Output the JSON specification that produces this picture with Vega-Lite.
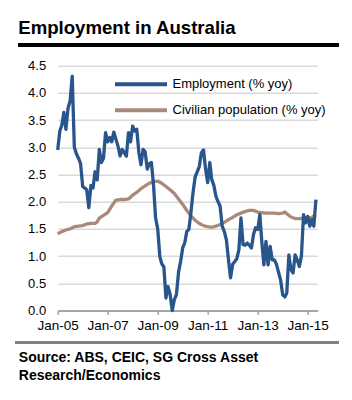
{
  "$schema": "https://vega.github.io/schema/vega-lite/v6.json",
  "autosize": {"type": "none"},
  "padding": {"left": 57.7, "top": 65.7, "right": 34.3, "bottom": 89.5},
  "width": 260,
  "height": 244.8,
  "background": "white",
  "title": {"text": "Employment in Australia", "anchor": "start", "frame": "group", "dx": -39.4, "offset": -9, "fontSize": 18.6, "fontWeight": "bold", "font": "Liberation Sans", "color": "#000000", "baseline": "alphabetic"},
  "config": {"view": {"stroke": null}, "font": "Liberation Sans"},
  "data": {"values": [
    {"d":"2005-01-01","s":"Civilian population (% yoy)","v":1.41},
    {"d":"2005-03-01","s":"Civilian population (% yoy)","v":1.45},
    {"d":"2005-05-01","s":"Civilian population (% yoy)","v":1.48},
    {"d":"2005-07-01","s":"Civilian population (% yoy)","v":1.50},
    {"d":"2005-09-01","s":"Civilian population (% yoy)","v":1.54},
    {"d":"2005-11-01","s":"Civilian population (% yoy)","v":1.55},
    {"d":"2006-01-01","s":"Civilian population (% yoy)","v":1.56},
    {"d":"2006-03-01","s":"Civilian population (% yoy)","v":1.59},
    {"d":"2006-05-01","s":"Civilian population (% yoy)","v":1.60},
    {"d":"2006-07-01","s":"Civilian population (% yoy)","v":1.60},
    {"d":"2006-08-01","s":"Civilian population (% yoy)","v":1.63},
    {"d":"2006-09-01","s":"Civilian population (% yoy)","v":1.70},
    {"d":"2006-11-01","s":"Civilian population (% yoy)","v":1.75},
    {"d":"2007-01-01","s":"Civilian population (% yoy)","v":1.80},
    {"d":"2007-03-01","s":"Civilian population (% yoy)","v":1.92},
    {"d":"2007-05-01","s":"Civilian population (% yoy)","v":2.03},
    {"d":"2007-07-01","s":"Civilian population (% yoy)","v":2.04},
    {"d":"2007-09-01","s":"Civilian population (% yoy)","v":2.04},
    {"d":"2007-11-01","s":"Civilian population (% yoy)","v":2.05},
    {"d":"2008-01-01","s":"Civilian population (% yoy)","v":2.12},
    {"d":"2008-03-01","s":"Civilian population (% yoy)","v":2.17},
    {"d":"2008-05-01","s":"Civilian population (% yoy)","v":2.24},
    {"d":"2008-07-01","s":"Civilian population (% yoy)","v":2.29},
    {"d":"2008-09-01","s":"Civilian population (% yoy)","v":2.34},
    {"d":"2008-11-01","s":"Civilian population (% yoy)","v":2.37},
    {"d":"2009-01-01","s":"Civilian population (% yoy)","v":2.38},
    {"d":"2009-03-01","s":"Civilian population (% yoy)","v":2.34},
    {"d":"2009-05-01","s":"Civilian population (% yoy)","v":2.28},
    {"d":"2009-07-01","s":"Civilian population (% yoy)","v":2.22},
    {"d":"2009-09-01","s":"Civilian population (% yoy)","v":2.15},
    {"d":"2009-11-01","s":"Civilian population (% yoy)","v":2.05},
    {"d":"2010-01-01","s":"Civilian population (% yoy)","v":1.95},
    {"d":"2010-03-01","s":"Civilian population (% yoy)","v":1.84},
    {"d":"2010-05-01","s":"Civilian population (% yoy)","v":1.74},
    {"d":"2010-07-01","s":"Civilian population (% yoy)","v":1.66},
    {"d":"2010-09-01","s":"Civilian population (% yoy)","v":1.60},
    {"d":"2010-11-01","s":"Civilian population (% yoy)","v":1.56},
    {"d":"2011-01-01","s":"Civilian population (% yoy)","v":1.54},
    {"d":"2011-03-01","s":"Civilian population (% yoy)","v":1.53},
    {"d":"2011-05-01","s":"Civilian population (% yoy)","v":1.55},
    {"d":"2011-07-01","s":"Civilian population (% yoy)","v":1.58},
    {"d":"2011-09-01","s":"Civilian population (% yoy)","v":1.62},
    {"d":"2011-11-01","s":"Civilian population (% yoy)","v":1.67},
    {"d":"2012-01-01","s":"Civilian population (% yoy)","v":1.71},
    {"d":"2012-03-01","s":"Civilian population (% yoy)","v":1.76},
    {"d":"2012-05-01","s":"Civilian population (% yoy)","v":1.79},
    {"d":"2012-07-01","s":"Civilian population (% yoy)","v":1.82},
    {"d":"2012-09-01","s":"Civilian population (% yoy)","v":1.84},
    {"d":"2012-11-01","s":"Civilian population (% yoy)","v":1.84},
    {"d":"2013-01-01","s":"Civilian population (% yoy)","v":1.81},
    {"d":"2013-03-01","s":"Civilian population (% yoy)","v":1.80},
    {"d":"2013-05-01","s":"Civilian population (% yoy)","v":1.79},
    {"d":"2013-07-01","s":"Civilian population (% yoy)","v":1.79},
    {"d":"2013-09-01","s":"Civilian population (% yoy)","v":1.79},
    {"d":"2013-11-01","s":"Civilian population (% yoy)","v":1.78},
    {"d":"2014-01-01","s":"Civilian population (% yoy)","v":1.79},
    {"d":"2014-02-01","s":"Civilian population (% yoy)","v":1.81},
    {"d":"2014-03-01","s":"Civilian population (% yoy)","v":1.78},
    {"d":"2014-05-01","s":"Civilian population (% yoy)","v":1.72},
    {"d":"2014-07-01","s":"Civilian population (% yoy)","v":1.69},
    {"d":"2014-09-01","s":"Civilian population (% yoy)","v":1.69},
    {"d":"2014-11-01","s":"Civilian population (% yoy)","v":1.70},
    {"d":"2015-01-01","s":"Civilian population (% yoy)","v":1.70},
    {"d":"2015-03-01","s":"Civilian population (% yoy)","v":1.71},
    {"d":"2015-05-01","s":"Civilian population (% yoy)","v":1.76},
    {"d":"2005-01-01","s":"Employment (% yoy)","v":2.95},
    {"d":"2005-02-01","s":"Employment (% yoy)","v":3.30},
    {"d":"2005-03-01","s":"Employment (% yoy)","v":3.40},
    {"d":"2005-04-01","s":"Employment (% yoy)","v":3.64},
    {"d":"2005-05-01","s":"Employment (% yoy)","v":3.33},
    {"d":"2005-06-01","s":"Employment (% yoy)","v":3.72},
    {"d":"2005-07-01","s":"Employment (% yoy)","v":3.85},
    {"d":"2005-08-01","s":"Employment (% yoy)","v":4.31},
    {"d":"2005-09-01","s":"Employment (% yoy)","v":3.00},
    {"d":"2005-10-01","s":"Employment (% yoy)","v":2.88},
    {"d":"2005-11-01","s":"Employment (% yoy)","v":2.80},
    {"d":"2005-12-01","s":"Employment (% yoy)","v":2.70},
    {"d":"2006-01-01","s":"Employment (% yoy)","v":2.28},
    {"d":"2006-02-01","s":"Employment (% yoy)","v":2.25},
    {"d":"2006-03-01","s":"Employment (% yoy)","v":2.22},
    {"d":"2006-04-01","s":"Employment (% yoy)","v":1.89},
    {"d":"2006-05-01","s":"Employment (% yoy)","v":2.30},
    {"d":"2006-06-01","s":"Employment (% yoy)","v":2.25},
    {"d":"2006-07-01","s":"Employment (% yoy)","v":2.55},
    {"d":"2006-08-01","s":"Employment (% yoy)","v":2.40},
    {"d":"2006-09-01","s":"Employment (% yoy)","v":2.96},
    {"d":"2006-10-01","s":"Employment (% yoy)","v":2.72},
    {"d":"2006-11-01","s":"Employment (% yoy)","v":2.80},
    {"d":"2006-12-01","s":"Employment (% yoy)","v":3.27},
    {"d":"2007-01-01","s":"Employment (% yoy)","v":3.10},
    {"d":"2007-02-01","s":"Employment (% yoy)","v":3.18},
    {"d":"2007-03-01","s":"Employment (% yoy)","v":3.10},
    {"d":"2007-04-01","s":"Employment (% yoy)","v":3.28},
    {"d":"2007-05-01","s":"Employment (% yoy)","v":3.15},
    {"d":"2007-06-01","s":"Employment (% yoy)","v":3.02},
    {"d":"2007-07-01","s":"Employment (% yoy)","v":2.84},
    {"d":"2007-08-01","s":"Employment (% yoy)","v":2.96},
    {"d":"2007-09-01","s":"Employment (% yoy)","v":2.90},
    {"d":"2007-10-01","s":"Employment (% yoy)","v":2.84},
    {"d":"2007-11-01","s":"Employment (% yoy)","v":3.27},
    {"d":"2007-12-01","s":"Employment (% yoy)","v":3.10},
    {"d":"2008-01-01","s":"Employment (% yoy)","v":3.39},
    {"d":"2008-02-01","s":"Employment (% yoy)","v":3.30},
    {"d":"2008-03-01","s":"Employment (% yoy)","v":3.33},
    {"d":"2008-04-01","s":"Employment (% yoy)","v":2.90},
    {"d":"2008-05-01","s":"Employment (% yoy)","v":2.68},
    {"d":"2008-06-01","s":"Employment (% yoy)","v":2.96},
    {"d":"2008-07-01","s":"Employment (% yoy)","v":2.92},
    {"d":"2008-08-01","s":"Employment (% yoy)","v":2.60},
    {"d":"2008-09-01","s":"Employment (% yoy)","v":2.70},
    {"d":"2008-10-01","s":"Employment (% yoy)","v":2.72},
    {"d":"2008-11-01","s":"Employment (% yoy)","v":2.30},
    {"d":"2008-12-01","s":"Employment (% yoy)","v":1.70},
    {"d":"2009-01-01","s":"Employment (% yoy)","v":1.50},
    {"d":"2009-02-01","s":"Employment (% yoy)","v":0.99},
    {"d":"2009-03-01","s":"Employment (% yoy)","v":0.86},
    {"d":"2009-04-01","s":"Employment (% yoy)","v":0.80},
    {"d":"2009-05-01","s":"Employment (% yoy)","v":0.23},
    {"d":"2009-06-01","s":"Employment (% yoy)","v":0.44},
    {"d":"2009-07-01","s":"Employment (% yoy)","v":0.30},
    {"d":"2009-08-01","s":"Employment (% yoy)","v":0.00},
    {"d":"2009-09-01","s":"Employment (% yoy)","v":0.20},
    {"d":"2009-10-01","s":"Employment (% yoy)","v":0.29},
    {"d":"2009-11-01","s":"Employment (% yoy)","v":0.70},
    {"d":"2009-12-01","s":"Employment (% yoy)","v":0.90},
    {"d":"2010-01-01","s":"Employment (% yoy)","v":1.15},
    {"d":"2010-02-01","s":"Employment (% yoy)","v":1.25},
    {"d":"2010-03-01","s":"Employment (% yoy)","v":1.45},
    {"d":"2010-04-01","s":"Employment (% yoy)","v":1.49},
    {"d":"2010-05-01","s":"Employment (% yoy)","v":1.80},
    {"d":"2010-06-01","s":"Employment (% yoy)","v":2.17},
    {"d":"2010-07-01","s":"Employment (% yoy)","v":2.45},
    {"d":"2010-08-01","s":"Employment (% yoy)","v":2.55},
    {"d":"2010-09-01","s":"Employment (% yoy)","v":2.65},
    {"d":"2010-10-01","s":"Employment (% yoy)","v":2.90},
    {"d":"2010-11-01","s":"Employment (% yoy)","v":2.95},
    {"d":"2010-12-01","s":"Employment (% yoy)","v":2.60},
    {"d":"2011-01-01","s":"Employment (% yoy)","v":2.35},
    {"d":"2011-02-01","s":"Employment (% yoy)","v":2.72},
    {"d":"2011-03-01","s":"Employment (% yoy)","v":2.41},
    {"d":"2011-04-01","s":"Employment (% yoy)","v":2.30},
    {"d":"2011-05-01","s":"Employment (% yoy)","v":2.10},
    {"d":"2011-06-01","s":"Employment (% yoy)","v":2.00},
    {"d":"2011-07-01","s":"Employment (% yoy)","v":1.92},
    {"d":"2011-08-01","s":"Employment (% yoy)","v":1.55},
    {"d":"2011-09-01","s":"Employment (% yoy)","v":1.45},
    {"d":"2011-10-01","s":"Employment (% yoy)","v":1.30},
    {"d":"2011-11-01","s":"Employment (% yoy)","v":0.93},
    {"d":"2011-12-01","s":"Employment (% yoy)","v":0.60},
    {"d":"2012-01-01","s":"Employment (% yoy)","v":0.85},
    {"d":"2012-02-01","s":"Employment (% yoy)","v":0.90},
    {"d":"2012-03-01","s":"Employment (% yoy)","v":0.95},
    {"d":"2012-04-01","s":"Employment (% yoy)","v":1.12},
    {"d":"2012-05-01","s":"Employment (% yoy)","v":1.70},
    {"d":"2012-06-01","s":"Employment (% yoy)","v":1.21},
    {"d":"2012-07-01","s":"Employment (% yoy)","v":1.20},
    {"d":"2012-08-01","s":"Employment (% yoy)","v":1.24},
    {"d":"2012-09-01","s":"Employment (% yoy)","v":1.20},
    {"d":"2012-10-01","s":"Employment (% yoy)","v":1.15},
    {"d":"2012-11-01","s":"Employment (% yoy)","v":1.40},
    {"d":"2012-12-01","s":"Employment (% yoy)","v":1.52},
    {"d":"2013-01-01","s":"Employment (% yoy)","v":1.49},
    {"d":"2013-02-01","s":"Employment (% yoy)","v":1.76},
    {"d":"2013-03-01","s":"Employment (% yoy)","v":1.27},
    {"d":"2013-04-01","s":"Employment (% yoy)","v":0.84},
    {"d":"2013-05-01","s":"Employment (% yoy)","v":1.27},
    {"d":"2013-06-01","s":"Employment (% yoy)","v":0.84},
    {"d":"2013-07-01","s":"Employment (% yoy)","v":1.18},
    {"d":"2013-08-01","s":"Employment (% yoy)","v":0.93},
    {"d":"2013-09-01","s":"Employment (% yoy)","v":0.93},
    {"d":"2013-10-01","s":"Employment (% yoy)","v":0.85},
    {"d":"2013-11-01","s":"Employment (% yoy)","v":0.70},
    {"d":"2013-12-01","s":"Employment (% yoy)","v":0.56},
    {"d":"2014-01-01","s":"Employment (% yoy)","v":0.29},
    {"d":"2014-02-01","s":"Employment (% yoy)","v":0.25},
    {"d":"2014-03-01","s":"Employment (% yoy)","v":0.32},
    {"d":"2014-04-01","s":"Employment (% yoy)","v":1.02},
    {"d":"2014-05-01","s":"Employment (% yoy)","v":0.75},
    {"d":"2014-06-01","s":"Employment (% yoy)","v":0.69},
    {"d":"2014-07-01","s":"Employment (% yoy)","v":1.02},
    {"d":"2014-08-01","s":"Employment (% yoy)","v":0.93},
    {"d":"2014-09-01","s":"Employment (% yoy)","v":0.81},
    {"d":"2014-10-01","s":"Employment (% yoy)","v":1.00},
    {"d":"2014-11-01","s":"Employment (% yoy)","v":1.76},
    {"d":"2014-12-01","s":"Employment (% yoy)","v":1.61},
    {"d":"2015-01-01","s":"Employment (% yoy)","v":1.73},
    {"d":"2015-02-01","s":"Employment (% yoy)","v":1.55},
    {"d":"2015-03-01","s":"Employment (% yoy)","v":1.67},
    {"d":"2015-04-01","s":"Employment (% yoy)","v":1.55},
    {"d":"2015-05-01","s":"Employment (% yoy)","v":2.04}
  ]},
  "layer": [
    {
      "mark": {"type": "line", "strokeWidth": 3.3, "strokeJoin": "round"},
      "encoding": {
        "x": {
          "field": "d", "type": "temporal",
          "scale": {"domain": [{"year": 2005, "month": 1, "date": 1}, {"year": 2015, "month": 5, "date": 27}]},
          "axis": {
            "values": [{"year": 2005, "month": 1, "date": 1}, {"year": 2007, "month": 1, "date": 1}, {"year": 2009, "month": 1, "date": 1}, {"year": 2011, "month": 1, "date": 1}, {"year": 2013, "month": 1, "date": 1}, {"year": 2015, "month": 1, "date": 1}],
            "tickCount": 20,
            "format": "%b-%y", "grid": false, "labelOverlap": false, "labelFlush": false,
            "domainColor": "#a6a6a6", "domainWidth": 2,
            "tickColor": "#a6a6a6", "tickWidth": 1.5, "tickSize": 4,
            "labelFontSize": 13.5, "labelColor": "#000000", "labelPadding": 4, "labelFont": "Liberation Sans",
            "title": ["Source: ABS, CEIC, SG Cross Asset", "Research/Economics"],
            "titleFont": "Liberation Sans", "titleFontSize": 14, "titleFontWeight": "bold", "titleColor": "#000000",
            "titleAlign": "left", "titleAnchor": "start", "titleBaseline": "alphabetic",
            "titleX": -39.4, "titleY": 51.2, "titleLineHeight": 18.3
          }
        },
        "y": {
          "field": "v", "type": "quantitative",
          "scale": {"domain": [0, 4.5], "nice": false},
          "axis": {
            "values": [0, 0.5, 1, 1.5, 2, 2.5, 3, 3.5, 4, 4.5], "tickCount": 20, "format": ".1f", "labelOverlap": false,
            "domain": false, "ticks": false, "tickSize": 0,
            "gridColor": "#d9d9d9", "gridWidth": 1.5,
            "labelFontSize": 13, "labelColor": "#000000", "labelPadding": 12, "labelFont": "Liberation Sans",
            "title": null
          }
        },
        "color": {
          "field": "s", "type": "nominal",
          "scale": {"domain": ["Employment (% yoy)", "Civilian population (% yoy)"], "range": ["#27558c", "#a98a7a"]},
          "legend": {
            "orient": "none", "legendX": 74.8, "legendY": 10, "title": null,
            "symbolType": "M-4,0H4", "symbolSize": 169, "symbolStrokeWidth": 4,
            "labelFontSize": 13, "labelFont": "Liberation Sans", "labelColor": "#000000", "labelOffset": 23,
            "rowPadding": 9, "padding": 0
          }
        }
      }
    },
    {
      "mark": {"type": "rule", "color": "#000000", "strokeWidth": 3},
      "encoding": {
        "x": {"datum": {"year": 2003, "month": 6, "date": 5}, "type": "temporal"},
        "x2": {"datum": {"year": 2016, "month": 3, "date": 23}},
        "y": {"datum": 4.881, "type": "quantitative"}
      }
    },
    {
      "mark": {"type": "rule", "color": "#808080", "strokeWidth": 3},
      "encoding": {
        "x": {"datum": {"year": 2003, "month": 5, "date": 2}, "type": "temporal"},
        "x2": {"datum": {"year": 2016, "month": 3, "date": 23}},
        "y": {"datum": -0.588, "type": "quantitative"}
      }
    }
  ]
}
